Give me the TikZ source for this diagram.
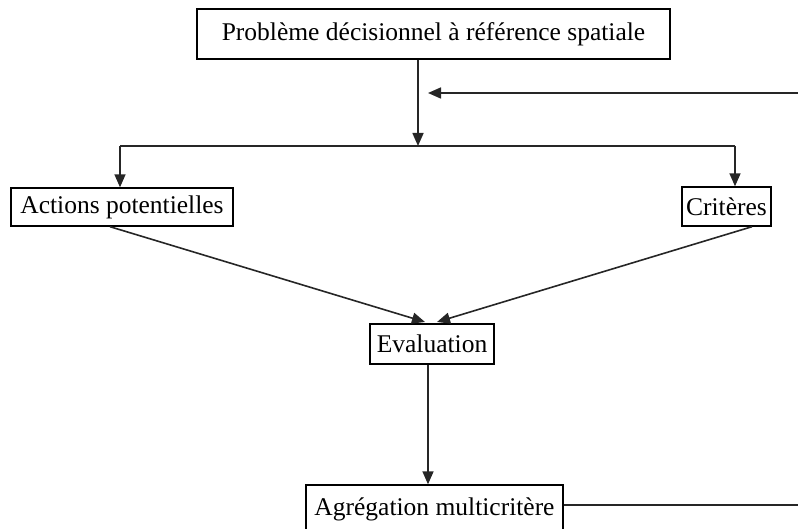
\documentclass[tikz,border=0pt]{standalone}
\usepackage{fontspec}
\setmainfont{Liberation Serif}
\usetikzlibrary{arrows.meta}
\begin{document}
\begin{tikzpicture}[x=1pt,y=-1pt,
  box/.style={draw=black,line width=1.4pt,inner sep=0pt,font=\fontsize{25.5}{30}\selectfont},
  conn/.style={line width=1.6pt,draw=black!85},
  arr/.style={conn,-{Triangle[length=13pt,width=11pt]}}]
\useasboundingbox (0,0) rectangle (798,529);
\node[box,minimum width=473pt,minimum height=50pt] (top) at (433.5,34) {Problème décisionnel à référence spatiale};
\node[box,minimum width=222pt,minimum height=38pt] (act) at (122,207) {Actions potentielles};
\node[box,minimum width=89pt,minimum height=39pt] (crit) at (726.5,206.5) {Critères};
\node[box,minimum width=124pt,minimum height=40pt] (eval) at (432,344) {Evaluation};
\node[box,minimum width=257pt,minimum height=48pt] (agr) at (434.5,509) {Agrégation multicritère};
\coordinate (j) at (418,146);
\coordinate (jl) at (120,146);
\coordinate (jr) at (735,146);
\coordinate (fbin) at (798,93);
\coordinate (fbend) at (428,93);
\coordinate (fbout) at (798,505);
\draw[arr] (top.south -| j) -- (j);
\draw[conn] (jl) -- (jr);
\draw[arr] (jl) -- (act.north -| jl);
\draw[arr] (jr) -- (crit.north -| jr);
\draw[arr] (fbin) -- (fbend);
\draw[arr] (act.south -| 110,0) -- (425,322);
\draw[arr] (crit.south -| 752,0) -- (437,322);
\draw[arr] (eval.south -| 428,0) -- (agr.north -| 428,0);
\draw[conn] (agr.east |- fbout) -- (fbout);
\end{tikzpicture}
\end{document}
